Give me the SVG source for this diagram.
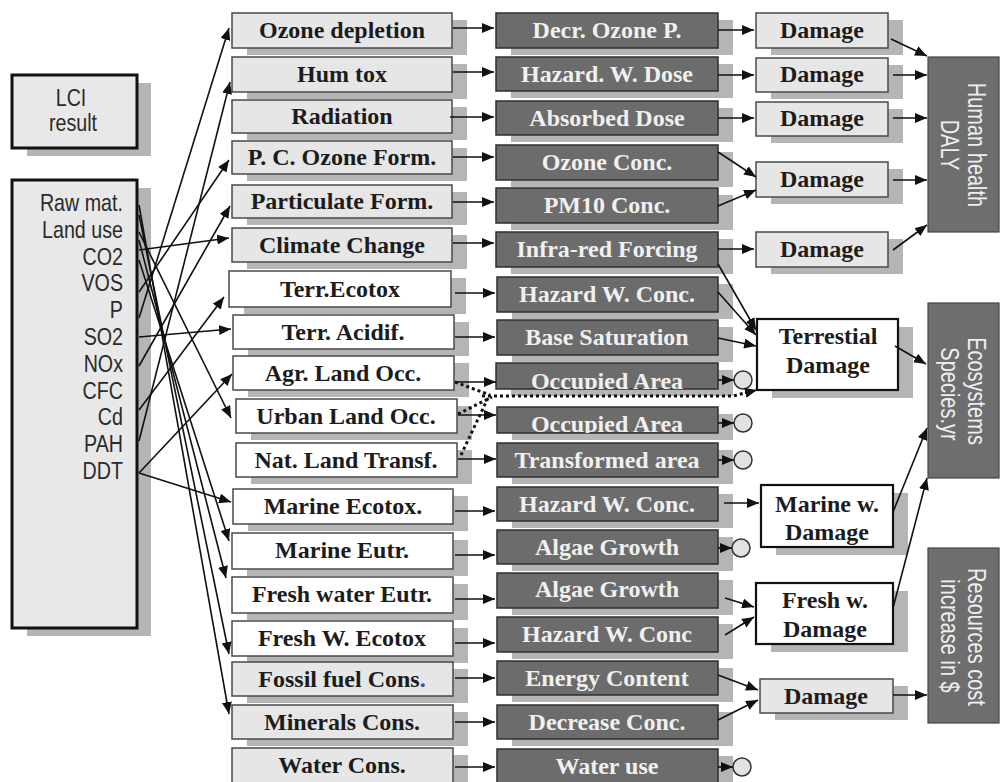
<svg xmlns="http://www.w3.org/2000/svg" width="1000" height="782" viewBox="0 0 1000 782">
<defs>
<marker id="ah" viewBox="0 0 12 10" refX="12" refY="5" markerWidth="12" markerHeight="10" markerUnits="userSpaceOnUse" orient="auto"><path d="M0,0 L12,5 L0,10 z" fill="#111"/></marker>
<clipPath id="cpo1"><rect x="496" y="363" width="222" height="26"/></clipPath>
<clipPath id="cpo2"><rect x="497" y="407" width="221" height="26"/></clipPath>
</defs>
<style>
.sh{fill:#b5b5b5}
.lt{fill:#e6e6e6;stroke:#4a4a4a;stroke-width:1.5}
.wt{fill:#ffffff;stroke:#4a4a4a;stroke-width:1.5}
.wb{fill:#ffffff;stroke:#111;stroke-width:2.2}
.dk{fill:#6c6c6c;stroke:#2e2e2e;stroke-width:1.5}
.pn{fill:#6e6e6e;stroke:#444;stroke-width:1.2}
.lci{fill:#e8e8e8;stroke:#111;stroke-width:3}
.t{font-family:"Liberation Serif","Times New Roman",serif;font-weight:bold;font-size:24px;text-anchor:middle;fill:#1c1c1c}
.tw{fill:#f0f0f0}
.s{font-family:"Liberation Sans",Arial,sans-serif;font-size:24px;fill:#2a2a2a}
.r{font-family:"Liberation Sans",Arial,sans-serif;font-size:25px;fill:#eeeeee;text-anchor:middle}
.ln{fill:none;stroke:#111;stroke-width:1.6;marker-end:url(#ah)}
.dt{fill:none;stroke:#111;stroke-width:3;stroke-dasharray:3 3}
.ci{fill:#e2e2e2;stroke:#333;stroke-width:1.5}
</style>
<rect width="1000" height="782" fill="#ffffff"/>

<g id="lci-result">
<rect class="sh" x="27" y="83" width="124" height="73"/>
<rect class="lci" x="12" y="75" width="125" height="73"/>
<text class="s" transform="translate(71,106) scale(0.82,1)" text-anchor="middle">LCI</text>
<text class="s" transform="translate(73,131) scale(0.82,1)" text-anchor="middle">result</text>
</g>
<g id="lci-list">
<rect class="sh" x="27" y="188" width="124" height="448"/>
<rect class="lci" x="12" y="180" width="125" height="448"/>
<g class="s" text-anchor="end" transform="translate(123,0) scale(0.82,1)">
<text x="0" y="211">Raw mat.</text>
<text x="0" y="238">Land use</text>
<text x="0" y="265">CO2</text>
<text x="0" y="291">VOS</text>
<text x="0" y="318">P</text>
<text x="0" y="345">SO2</text>
<text x="0" y="372">NOx</text>
<text x="0" y="399">CFC</text>
<text x="0" y="425">Cd</text>
<text x="0" y="452">PAH</text>
<text x="0" y="479">DDT</text>
</g>
</g>

<!-- impact categories -->
<g id="ozone-depletion"><rect class="sh" x="247" y="20" width="220" height="35"/><rect class="lt" x="232" y="13" width="220" height="35"/><text class="t" x="342" y="38">Ozone depletion</text></g>
<g id="hum-tox"><rect class="sh" x="247" y="64" width="220" height="35"/><rect class="lt" x="232" y="57" width="220" height="35"/><text class="t" x="342" y="82">Hum tox</text></g>
<g id="radiation"><rect class="sh" x="247" y="107" width="220" height="33"/><rect class="lt" x="232" y="100" width="220" height="33"/><text class="t" x="342" y="124">Radiation</text></g>
<g id="pc-ozone"><rect class="sh" x="247" y="148" width="220" height="33"/><rect class="lt" x="232" y="141" width="220" height="33"/><text class="t" x="342" y="165">P. C. Ozone Form.</text></g>
<g id="particulate"><rect class="sh" x="247" y="192" width="220" height="33"/><rect class="lt" x="232" y="185" width="220" height="33"/><text class="t" x="342" y="209">Particulate Form.</text></g>
<g id="climate-change"><rect class="sh" x="247" y="235" width="220" height="34"/><rect class="lt" x="232" y="228" width="220" height="34"/><text class="t" x="342" y="253">Climate Change</text></g>
<g id="terr-ecotox"><rect class="sh" x="244" y="278" width="222" height="36"/><rect class="wt" x="229" y="271" width="222" height="36"/><text class="t" x="340" y="297">Terr.Ecotox</text></g>
<g id="terr-acidif"><rect class="sh" x="248" y="322" width="221" height="34"/><rect class="wt" x="233" y="315" width="221" height="34"/><text class="t" x="343" y="340">Terr. Acidif.</text></g>
<g id="agr-land"><rect class="sh" x="248" y="363" width="221" height="34"/><rect class="wt" x="233" y="356" width="221" height="34"/><text class="t" x="343" y="381">Agr. Land Occ.</text></g>
<g id="urban-land"><rect class="sh" x="251" y="406" width="221" height="34"/><rect class="wt" x="236" y="399" width="221" height="34"/><text class="t" x="346" y="424">Urban Land Occ.</text></g>
<g id="nat-land"><rect class="sh" x="251" y="450" width="221" height="34"/><rect class="wt" x="236" y="443" width="221" height="34"/><text class="t" x="346" y="468">Nat. Land Transf.</text></g>
<g id="marine-ecotox"><rect class="sh" x="248" y="496" width="220" height="35"/><rect class="wt" x="233" y="489" width="220" height="35"/><text class="t" x="343" y="514">Marine Ecotox.</text></g>
<g id="marine-eutr"><rect class="sh" x="247" y="540" width="221" height="36"/><rect class="wt" x="232" y="533" width="221" height="36"/><text class="t" x="342" y="558">Marine Eutr.</text></g>
<g id="fresh-eutr"><rect class="sh" x="247" y="584" width="221" height="36"/><rect class="wt" x="232" y="577" width="221" height="36"/><text class="t" x="342" y="602">Fresh water Eutr.</text></g>
<g id="fresh-ecotox"><rect class="sh" x="247" y="628" width="221" height="35"/><rect class="wt" x="232" y="621" width="221" height="35"/><text class="t" x="342" y="646">Fresh W. Ecotox</text></g>
<g id="fossil"><rect class="sh" x="247" y="669" width="221" height="34"/><rect class="lt" x="232" y="662" width="221" height="34"/><text class="t" x="342" y="687">Fossil fuel Cons<tspan fill="#4a4aa8">.</tspan></text></g>
<g id="minerals"><rect class="sh" x="247" y="712" width="221" height="34"/><rect class="lt" x="232" y="705" width="221" height="34"/><text class="t" x="342" y="730">Minerals Cons.</text></g>
<g id="water-cons"><rect class="sh" x="247" y="755" width="221" height="35"/><rect class="lt" x="232" y="748" width="221" height="35"/><text class="t" x="342" y="773">Water Cons.</text></g>

<!-- midpoints -->
<g id="decr-ozone"><rect class="sh" x="511" y="20" width="222" height="35"/><rect class="dk" x="496" y="13" width="222" height="35"/><text class="t tw" x="607" y="38">Decr. Ozone P.</text></g>
<g id="hazard-dose"><rect class="sh" x="511" y="64" width="222" height="34"/><rect class="dk" x="496" y="57" width="222" height="34"/><text class="t tw" x="607" y="82">Hazard. W. Dose</text></g>
<g id="absorbed-dose"><rect class="sh" x="511" y="108" width="222" height="34"/><rect class="dk" x="496" y="101" width="222" height="34"/><text class="t tw" x="607" y="126">Absorbed Dose</text></g>
<g id="ozone-conc"><rect class="sh" x="511" y="152" width="222" height="35"/><rect class="dk" x="496" y="145" width="222" height="35"/><text class="t tw" x="607" y="170">Ozone Conc.</text></g>
<g id="pm10"><rect class="sh" x="511" y="195" width="222" height="35"/><rect class="dk" x="496" y="188" width="222" height="35"/><text class="t tw" x="607" y="213">PM10 Conc.</text></g>
<g id="infrared"><rect class="sh" x="511" y="239" width="222" height="35"/><rect class="dk" x="496" y="232" width="222" height="35"/><text class="t tw" x="607" y="257">Infra-red Forcing</text></g>
<g id="hazard-conc-t"><rect class="sh" x="512" y="284" width="221" height="35"/><rect class="dk" x="497" y="277" width="221" height="35"/><text class="t tw" x="607" y="302">Hazard W. Conc.</text></g>
<g id="base-sat"><rect class="sh" x="512" y="327" width="221" height="35"/><rect class="dk" x="497" y="320" width="221" height="35"/><text class="t tw" x="607" y="345">Base Saturation</text></g>
<g id="occupied-1"><rect class="sh" x="511" y="370" width="222" height="26"/><rect class="dk" x="496" y="363" width="222" height="26"/><text class="t tw" x="607" y="389" clip-path="url(#cpo1)">Occupied Area</text></g>
<g id="occupied-2"><rect class="sh" x="512" y="414" width="221" height="26"/><rect class="dk" x="497" y="407" width="221" height="26"/><text class="t tw" x="607" y="432" clip-path="url(#cpo2)">Occupied Area</text></g>
<g id="transformed"><rect class="sh" x="512" y="450" width="221" height="34"/><rect class="dk" x="497" y="443" width="221" height="34"/><text class="t tw" x="607" y="468">Transformed area</text></g>
<g id="hazard-conc-m"><rect class="sh" x="512" y="494" width="221" height="34"/><rect class="dk" x="497" y="487" width="221" height="34"/><text class="t tw" x="607" y="512">Hazard W. Conc.</text></g>
<g id="algae-m"><rect class="sh" x="512" y="537" width="221" height="34"/><rect class="dk" x="497" y="530" width="221" height="34"/><text class="t tw" x="607" y="555">Algae Growth</text></g>
<g id="algae-f"><rect class="sh" x="512" y="580" width="221" height="35"/><rect class="dk" x="497" y="573" width="221" height="35"/><text class="t tw" x="607" y="597">Algae Growth</text></g>
<g id="hazard-conc-f"><rect class="sh" x="512" y="624" width="221" height="35"/><rect class="dk" x="497" y="617" width="221" height="35"/><text class="t tw" x="607" y="642">Hazard W. Conc</text></g>
<g id="energy"><rect class="sh" x="512" y="668" width="221" height="34"/><rect class="dk" x="497" y="661" width="221" height="34"/><text class="t tw" x="607" y="686">Energy Content</text></g>
<g id="decrease-conc"><rect class="sh" x="512" y="712" width="221" height="34"/><rect class="dk" x="497" y="705" width="221" height="34"/><text class="t tw" x="607" y="730">Decrease Conc.</text></g>
<g id="water-use"><rect class="sh" x="512" y="756" width="221" height="34"/><rect class="dk" x="497" y="749" width="221" height="34"/><text class="t tw" x="607" y="774">Water use</text></g>

<!-- damage boxes -->
<g id="damage-1"><rect class="sh" x="771" y="20" width="132" height="35"/><rect class="lt" x="756" y="13" width="132" height="35"/><text class="t" x="822" y="38">Damage</text></g>
<g id="damage-2"><rect class="sh" x="771" y="65" width="132" height="34"/><rect class="lt" x="756" y="58" width="132" height="34"/><text class="t" x="822" y="82">Damage</text></g>
<g id="damage-3"><rect class="sh" x="771" y="109" width="132" height="34"/><rect class="lt" x="756" y="102" width="132" height="34"/><text class="t" x="822" y="126">Damage</text></g>
<g id="damage-4"><rect class="sh" x="771" y="169" width="132" height="35"/><rect class="lt" x="756" y="162" width="132" height="35"/><text class="t" x="822" y="187">Damage</text></g>
<g id="damage-5"><rect class="sh" x="771" y="239" width="132" height="35"/><rect class="lt" x="756" y="232" width="132" height="35"/><text class="t" x="822" y="257">Damage</text></g>
<g id="terrestial-damage"><rect class="sh" x="772" y="327" width="141" height="71"/><rect class="wb" x="757" y="319" width="141" height="71"/><text class="t" x="828" y="344">Terrestial</text><text class="t" x="828" y="373">Damage</text></g>
<g id="marine-damage"><rect class="sh" x="776" y="493" width="132" height="62"/><rect class="wb" x="761" y="485" width="132" height="62"/><text class="t" x="827" y="512">Marine w.</text><text class="t" x="827" y="540">Damage</text></g>
<g id="fresh-damage"><rect class="sh" x="771" y="591" width="137" height="61"/><rect class="wb" x="756" y="583" width="137" height="61"/><text class="t" x="825" y="608">Fresh w.</text><text class="t" x="825" y="637">Damage</text></g>
<g id="damage-res"><rect class="sh" x="775" y="686" width="133" height="34"/><rect class="lt" x="760" y="679" width="133" height="34"/><text class="t" x="826" y="704">Damage</text></g>

<!-- endpoints -->
<g id="human-health"><rect class="pn" x="928" y="57" width="71" height="175"/><text class="r" transform="translate(968,145) rotate(90) scale(0.8,1)">Human health</text><text class="r" transform="translate(941,145) rotate(90) scale(0.8,1)">DALY</text></g>
<g id="ecosystems"><rect class="pn" x="928" y="303" width="71" height="175"/><text class="r" transform="translate(968,391) rotate(90) scale(0.8,1)">Ecosystems</text><text class="r" transform="translate(941,394) rotate(90) scale(0.8,1)">Species.yr</text></g>
<g id="resources"><rect class="pn" x="928" y="548" width="71" height="175"/><text class="r" transform="translate(968,637) rotate(90) scale(0.8,1)">Resources cost</text><text class="r" transform="translate(941,636) rotate(90) scale(0.8,1)">increase in $</text></g>

<g id="circles">
<circle class="ci" cx="743" cy="380" r="9"/>
<circle class="ci" cx="743" cy="423" r="9"/>
<circle class="ci" cx="743" cy="460" r="9"/>
<circle class="ci" cx="741" cy="548" r="9"/>
<circle class="ci" cx="742" cy="767" r="9"/>
</g>

<g id="connectors">
<!-- LCI to categories -->
<path class="ln" d="M139,250 L229,238"/>
<path class="ln" d="M139,292 L229,160"/>
<path class="ln" d="M139,318 L229,28"/>
<path class="ln" d="M139,366 L230,206"/>
<path class="ln" d="M139,337 L231,329"/>
<path class="ln" d="M139,410 L224,297"/>
<path class="ln" d="M139,441 L230,82"/>
<path class="ln" d="M139,473 L232,374"/>
<path class="ln" d="M139,473 L231,502"/>
<path class="ln" d="M139,232 L231,418"/>
<path class="ln" d="M139,205 L229,714"/>
<path class="ln" d="M139,215 L229,654"/>
<path class="ln" d="M139,240 L226,578"/>
<path class="ln" d="M139,260 L229,541"/>
<!-- categories to midpoints -->
<path class="ln" d="M453,28 L494,28"/>
<path class="ln" d="M453,72 L494,72"/>
<path class="ln" d="M450,117 L494,117"/>
<path class="ln" d="M453,157 L494,157"/>
<path class="ln" d="M453,202 L494,202"/>
<path class="ln" d="M453,243 L494,243"/>
<path class="ln" d="M455,293 L495,293"/>
<path class="ln" d="M455,337 L495,337"/>
<path class="ln" d="M455,382 L496,382"/>
<path class="ln" d="M458,415 L496,415"/>
<path class="ln" d="M458,459 L496,459"/>
<path class="ln" d="M455,511 L495,511"/>
<path class="ln" d="M455,555 L495,555"/>
<path class="ln" d="M455,599 L495,599"/>
<path class="ln" d="M455,643 L495,643"/>
<path class="ln" d="M455,678 L495,678"/>
<path class="ln" d="M455,722 L495,722"/>
<path class="ln" d="M455,767 L495,767"/>
<!-- land use dotted -->
<path class="dt" d="M455,382 L490,395"/>
<path class="dt" d="M458,414 L492,397"/>
<path class="dt" d="M461,455 L488,398"/>
<path class="dt" d="M482,396 L733,396 L752,391"/>
<path class="ln" d="M745,393 L757,390"/>
<!-- midpoints to circles -->
<path class="ln" d="M718,380 L734,380"/>
<path class="ln" d="M718,423 L734,423"/>
<path class="ln" d="M718,460 L734,460"/>
<path class="ln" d="M718,548 L732,548"/>
<path class="ln" d="M718,767 L733,767"/>
<!-- midpoints to damage -->
<path class="ln" d="M718,30 L754,30"/>
<path class="ln" d="M718,75 L754,75"/>
<path class="ln" d="M718,118 L754,118"/>
<path class="ln" d="M718,152 L756,177"/>
<path class="ln" d="M718,206 L756,190"/>
<path class="ln" d="M718,249 L754,249"/>
<path class="ln" d="M718,264 L756,330"/>
<path class="ln" d="M718,292 L756,335"/>
<path class="ln" d="M718,338 L756,346"/>
<path class="ln" d="M724,503 L759,503"/>
<path class="ln" d="M725,598 L754,607"/>
<path class="ln" d="M725,635 L754,617"/>
<path class="ln" d="M718,675 L758,690"/>
<path class="ln" d="M718,720 L758,700"/>
<!-- damage to endpoints -->
<path class="ln" d="M891,39 L927,56"/>
<path class="ln" d="M893,75 L927,75"/>
<path class="ln" d="M893,118 L927,118"/>
<path class="ln" d="M893,180 L927,180"/>
<path class="ln" d="M893,250 L927,225"/>
<path class="ln" d="M895,346 L926,364"/>
<path class="ln" d="M893,512 L927,428"/>
<path class="ln" d="M893,608 L927,478"/>
<path class="ln" d="M893,695 L927,695"/>
</g>
</svg>
